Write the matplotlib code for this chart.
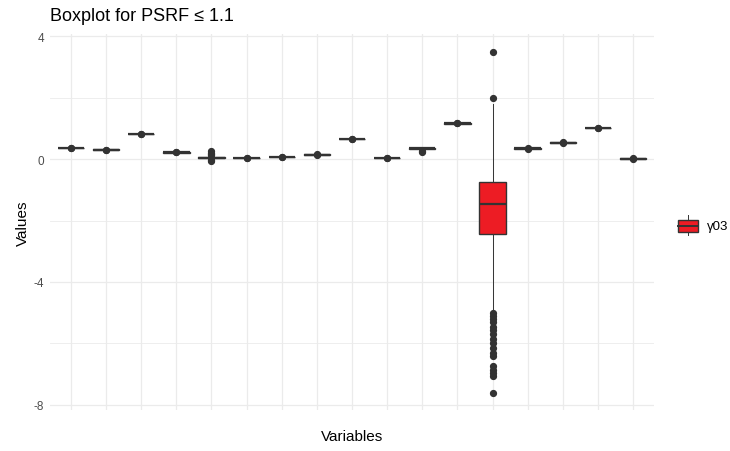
import matplotlib
matplotlib.use("Agg")
import matplotlib.pyplot as plt
from matplotlib.patches import Rectangle
from matplotlib.lines import Line2D

plt.rcParams['font.family'] = ['Liberation Sans', 'DejaVu Sans']

# one box per parameter; only γ03 gets a fill (and a legend entry)
variables = ["v01", "v02", "v03", "v04", "v05", "v06", "v07", "v08", "v09",
             "v10", "v11", "v12", "γ03", "v14", "v15", "v16", "v17"]
medians = [0.36, 0.30, 0.81, 0.22, 0.05, 0.03, 0.07, 0.14, 0.65,
           0.03, 0.35, 1.16, -1.46, 0.35, 0.53, 1.01, 0.01]
q1 = [0.35, 0.28, 0.80, 0.21, 0.03, 0.02, 0.06, 0.13, 0.64,
      0.02, 0.34, 1.15, -2.43, 0.34, 0.51, 1.00, 0.00]
q3 = [0.37, 0.32, 0.82, 0.23, 0.07, 0.04, 0.08, 0.15, 0.66,
      0.04, 0.36, 1.17, -0.74, 0.36, 0.55, 1.02, 0.02]
whisk_lo = [0.34, 0.26, 0.79, 0.20, 0.01, 0.01, 0.05, 0.12, 0.63,
            0.01, 0.33, 1.14, -4.95, 0.33, 0.49, 0.99, -0.01]
whisk_hi = [0.38, 0.34, 0.83, 0.24, 0.09, 0.05, 0.09, 0.16, 0.67,
            0.05, 0.37, 1.18, 1.78, 0.37, 0.57, 1.03, 0.03]
outliers = [
    [0.36, 0.37],
    [0.29, 0.30],
    [0.81, 0.82],
    [0.22, 0.23],
    [-0.07, -0.03, 0.12, 0.17, 0.21, 0.25],
    [0.03, 0.04],
    [0.07, 0.08],
    [0.14, 0.15],
    [0.65, 0.66],
    [0.03, 0.04],
    [0.24, 0.26],
    [1.16, 1.17],
    [2.0, 3.5, -5.0, -5.1, -5.2, -5.3, -5.45, -5.55, -5.7, -5.85, -6.0,
     -6.15, -6.3, -6.4, -6.75, -6.85, -6.95, -7.05, -7.6],
    [0.34, 0.35],
    [0.53, 0.54],
    [1.01, 1.02],
    [0.01, 0.02],
]
fill_colors = ["none"] * 12 + ["#ED1C24"] + ["none"] * 4

fig = plt.figure(figsize=(7.3, 4.52), dpi=100)
ax = fig.add_axes([49.9 / 730, 1 - 410.8 / 452, 604.2 / 730, 375.5 / 452])

stats = []
for i in range(len(variables)):
    stats.append(dict(med=medians[i], q1=q1[i], q3=q3[i],
                      whislo=whisk_lo[i], whishi=whisk_hi[i],
                      fliers=outliers[i], label=variables[i]))

positions = list(range(1, len(variables) + 1))
res = ax.bxp(stats, positions=positions, widths=0.75, patch_artist=True,
             showcaps=False,
             boxprops=dict(edgecolor="#333333", linewidth=1.0),
             medianprops=dict(color="#333333", linewidth=1.6),
             whiskerprops=dict(color="#333333", linewidth=0.7),
             flierprops=dict(marker="o", markersize=4.2,
                             markerfacecolor="#333333",
                             markeredgecolor="#333333", linestyle="none"))
for patch, c in zip(res["boxes"], fill_colors):
    patch.set_facecolor(c)

ax.set_xlim(0.4, len(variables) + 0.6)
ax.set_ylim(-8.16, 4.06)

# theme_minimal-ish grid
for y in [-6, -2, 2]:
    ax.axhline(y, color="#EBEBEB", linewidth=0.6, zorder=0)
for y in [-8, -4, 0, 4]:
    ax.axhline(y, color="#EBEBEB", linewidth=0.9, zorder=0)
for x in positions:
    ax.axvline(x, color="#EBEBEB", linewidth=0.9, zorder=0)

ax.set_yticks([-8, -4, 0, 4])
ax.set_yticklabels(["-8", "-4", "0", "4"])
ax.set_xticks([])
ax.tick_params(axis="y", length=0, labelsize=8.5, labelcolor="#4D4D4D", pad=4)
for s in ax.spines.values():
    s.set_visible(False)

ax.set_xlabel("Variables", fontsize=11, labelpad=14)
ax.set_ylabel("Values", fontsize=11, labelpad=3)
fig.text(50 / 730, 1 - 21 / 452, "Boxplot for PSRF ≤ 1.1", fontsize=13,
         ha="left", va="baseline")

# legend key drawn by hand
kx0, kx1 = 678 / 730, 697.5 / 730
ky0, ky1 = 1 - 233.3 / 452, 1 - 221 / 452
fig.patches.append(Rectangle((kx0, ky0), kx1 - kx0, ky1 - ky0,
                             transform=fig.transFigure, facecolor="#ED1C24",
                             edgecolor="#333333", linewidth=1.0))
kxm = (kx0 + kx1) / 2
km = (ky0 + ky1) / 2
fig.lines.append(Line2D([kx0, kx1], [km, km], transform=fig.transFigure,
                        color="#333333", linewidth=1.4))
fig.lines.append(Line2D([kxm, kxm], [ky1, 1 - 216 / 452],
                        transform=fig.transFigure, color="#333333", linewidth=0.7))
fig.lines.append(Line2D([kxm, kxm], [ky0, 1 - 236 / 452],
                        transform=fig.transFigure, color="#333333", linewidth=0.7))
fig.text(707 / 730, km, "γ03", fontsize=9.5, va="center", ha="left")

fig.savefig("out.png", dpi=100)
